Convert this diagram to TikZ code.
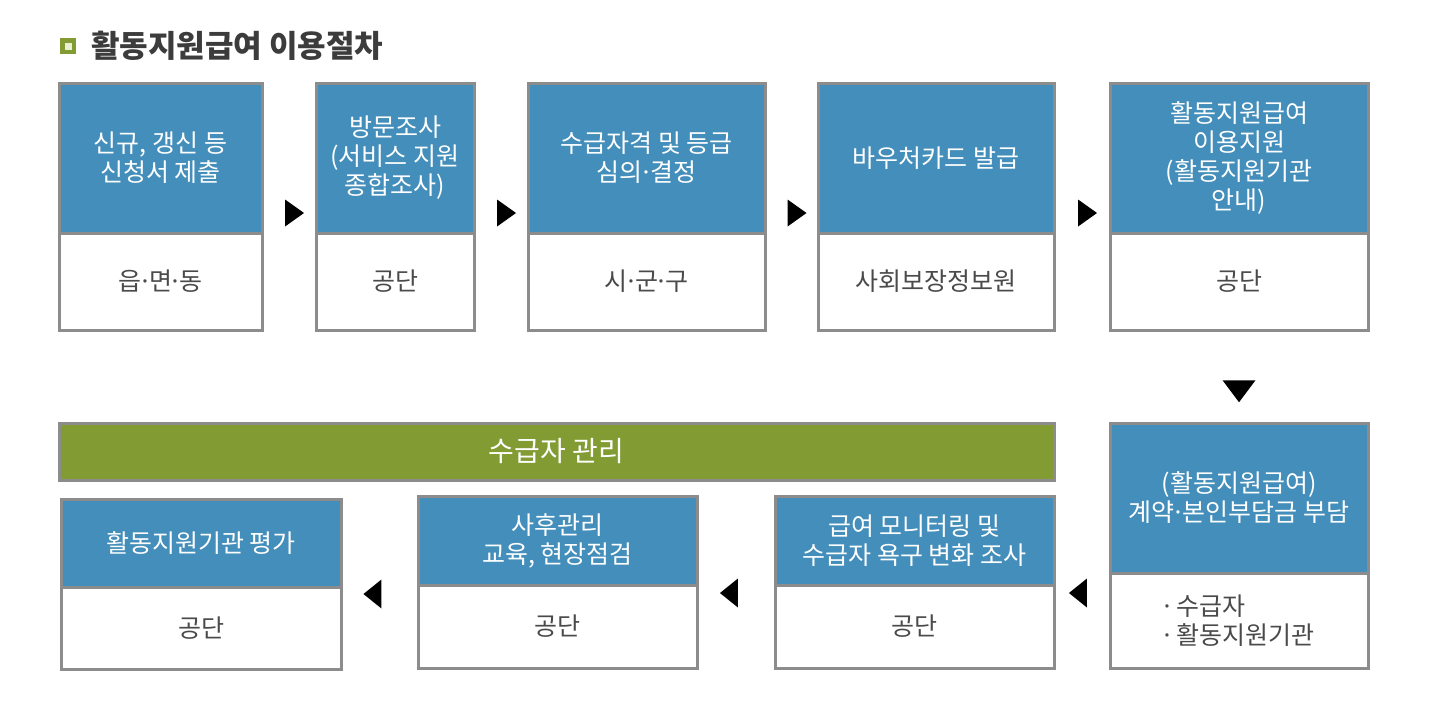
\documentclass[tikz,border=0pt]{standalone}
\usepackage{fontspec}
\setmainfont{Noto Sans CJK KR}
\usetikzlibrary{positioning, shapes.geometric, calc}
\definecolor{headBlue}{HTML}{438EBA}
\definecolor{barGreen}{HTML}{829C33}
\definecolor{edgeGray}{HTML}{8C8C8C}
\definecolor{footText}{HTML}{4A4A4A}
\definecolor{titleGray}{HTML}{3C3C3C}
\definecolor{markLight}{HTML}{E8EFD2}
\newcommand{\mdot}{\makebox[0.3em]{·}}

\begin{document}
\begin{tikzpicture}[x=0.5pt, y=-0.5pt,
        head/.style={draw=edgeGray, line width=1.5pt, fill=headBlue, text=white, align=center,
            inner sep=0pt, outer sep=0pt, anchor=north west, font=\fontsize{12.5}{14.5}\selectfont},
        foot/.style={draw=edgeGray, line width=1.5pt, fill=white, text=footText, align=center,
            inner sep=0pt, outer sep=0pt, font=\fontsize{12.5}{14.5}\selectfont},
        pointer/.style={isosceles triangle, isosceles triangle stretches, fill=black,
            inner sep=0pt, outer sep=0pt, minimum height=9.5pt, minimum width=13.5pt}]
        \useasboundingbox (0,0) rectangle (1440,718);

        % title
        \node[fill=barGreen, minimum size=8pt, inner sep=0pt] (mark) at (68,46) {};
        \node[fill=markLight, minimum size=3.5pt, inner sep=0pt] at (mark) {};
        \node[anchor=west, text=titleGray, font=\fontsize{15.5}{18}\bfseries] (title) at (84,46) {활동지원급여 이용절차};

        % upper row
        \node[head, minimum width=101.5pt, minimum height=75pt] (h1) at (59,83) {신규, 갱신 등\\신청서 제출};
        \node[foot, minimum width=101.5pt, minimum height=48.5pt, below=0pt of h1] (f1) {읍\mdot 면\mdot 동};
        \node[head, minimum width=79pt, minimum height=75pt] (h2) at (316,83) {방문조사\\(서비스 지원\\종합조사)};
        \node[foot, minimum width=79pt, minimum height=48.5pt, below=0pt of h2] (f2) {공단};
        \node[head, minimum width=118.5pt, minimum height=75pt] (h3) at (528,83) {수급자격 및 등급\\심의\mdot 결정};
        \node[foot, minimum width=118.5pt, minimum height=48.5pt, below=0pt of h3] (f3) {시\mdot 군\mdot 구};
        \node[head, minimum width=118pt, minimum height=75pt] (h4) at (818,83) {바우처카드 발급};
        \node[foot, minimum width=118pt, minimum height=48.5pt, below=0pt of h4] (f4) {사회보장정보원};
        \node[head, minimum width=129pt, minimum height=75pt] (h5) at (1110,83) {활동지원급여\\이용지원\\(활동지원기관\\안내)};
        \node[foot, minimum width=129pt, minimum height=48.5pt, below=0pt of h5] (f5) {공단};

        % lower row
        \node[head, minimum width=129pt, minimum height=75pt] (h6) at (1110,423) {(활동지원급여)\\계약\mdot 본인부담금 부담};
        \node[foot, minimum width=129pt, minimum height=47.5pt, below=0pt of h6, align=left] (f6) {\mdot\ 수급자\\\mdot\ 활동지원기관};
        \node[head, minimum width=139.5pt, minimum height=44.5pt] (h7) at (775,496) {급여 모니터링 및\\수급자 욕구 변화 조사};
        \node[foot, minimum width=139.5pt, minimum height=41.5pt, below=0pt of h7] (f7) {공단};
        \node[head, minimum width=139.5pt, minimum height=44.5pt] (h8) at (418,496) {사후관리\\교육, 현장점검};
        \node[foot, minimum width=139.5pt, minimum height=41.5pt, below=0pt of h8] (f8) {공단};
        \node[head, minimum width=140pt, minimum height=44pt] (h9) at (61,499) {활동지원기관 평가};
        \node[foot, minimum width=140pt, minimum height=41pt, below=0pt of h9] (f9) {공단};

        \node[head, fill=barGreen, minimum width=497.5pt, minimum height=28.5pt,
            font=\fontsize{14}{16}\selectfont] (bar) at (59,423) {수급자 관리};

        % pointers
        \node[pointer] (p12) at ($(h1.east)!0.5!(h2.west) + (3,55)$) {};
        \node[pointer] (p23) at ($(h2.east)!0.5!(h3.west) + (3,55)$) {};
        \node[pointer] (p34) at ($(h3.east)!0.5!(h4.west) + (3,55)$) {};
        \node[pointer] (p45) at ($(h4.east)!0.5!(h5.west) + (3,55)$) {};
        \node[pointer, shape border rotate=-90, minimum height=11pt, minimum width=16.5pt] (p56) at ($(f5.south)!0.5!(h6.north) + (0,12)$) {};
        \node[pointer, shape border rotate=180, minimum height=9pt, minimum width=14.5pt] (p67) at ($(f7.north east)!0.5!(f6.west |- f7.north) + (-2,8)$) {};
        \node[pointer, shape border rotate=180, minimum height=9pt, minimum width=14.5pt] (p78) at ($(f8.north east)!0.5!(f7.north west) + (-5,8)$) {};
        \node[pointer, shape border rotate=180, minimum height=9pt, minimum width=14.5pt] (p89) at ($(f9.north east)!0.5!(f8.north west) + (-5,8)$) {};
    \end{tikzpicture}
\end{document}
